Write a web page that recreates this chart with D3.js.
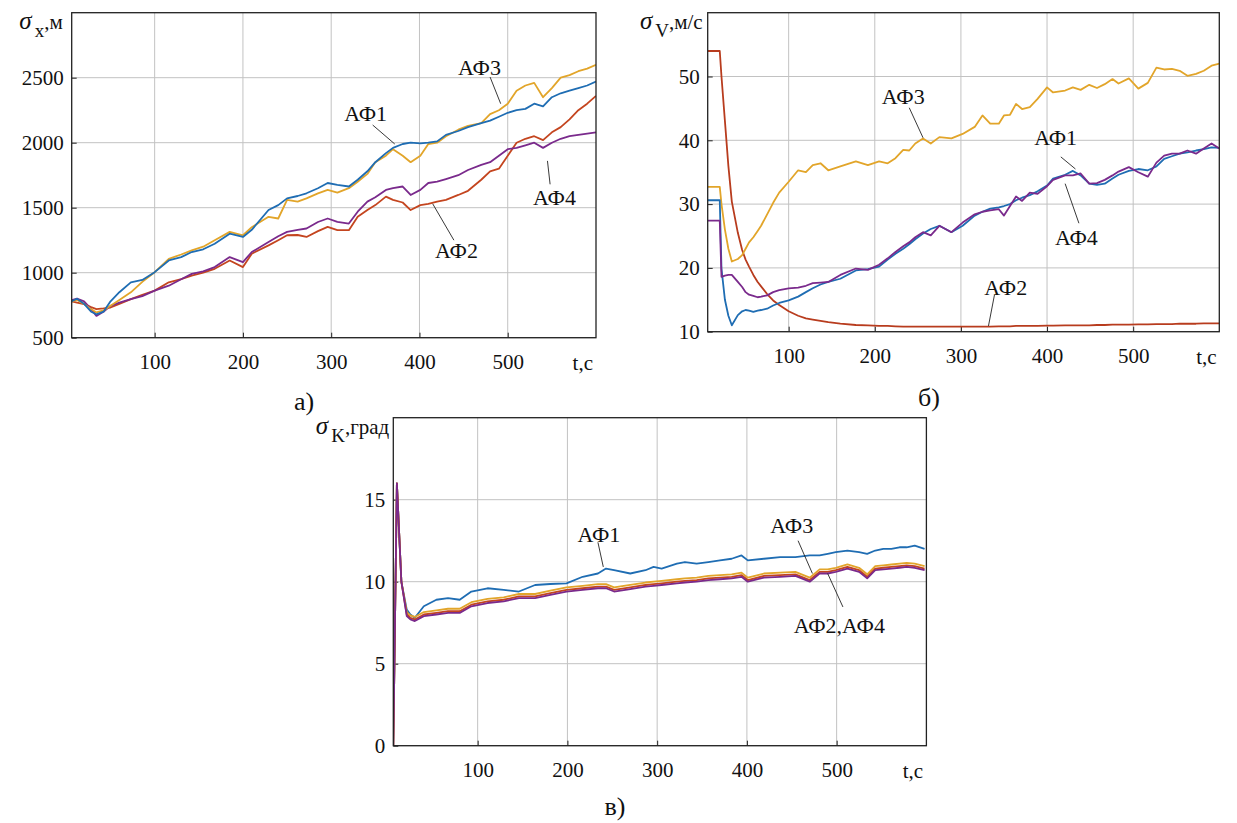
<!DOCTYPE html>
<html><head>
<meta charset="utf-8">
<title>sigma</title>
<script src="https://cdn.jsdelivr.net/npm/d3@7"></script>
<style>
body { margin:0; background:#fff; }
svg text { font-family:"Times New Roman","Liberation Serif","DejaVu Serif",serif; fill:#111; }
</style>
</head>
<body>
<svg id="chart" width="1237" height="823"></svg>
<script>

// ---- panel a) sigma_x, m ----
var tA = [6,12,20,28,34,42,50,60,73,86, 100,116,130,142,155,168,185,200,210,229,
  240,250,262,272,285,296,307,320,330,341, 350,362,370,381,390,401,410,420,430,444,
  455,470,480,490,500,510,520,530,540,550, 560,570,580,590,600];
var aF1 = [780,800,760,700,680,700,780,850,926,944, 1004,1094,1120,1159,1180,1223,1300,1275,1330,1482,
  1520,1572,1590,1611,1650,1690,1676,1663,1715,1780, 1850,1920,1960,1990,2000,1995,2000,2010,2060,2090,
  2120,2150,2170,2200,2230,2250,2260,2300,2280,2350, 2380,2400,2420,2440,2470];
var aF2 = [780,770,758,735,720,725,732,760,797,830, 862,926,950,978,1000,1030,1094,1043,1146,1210,
  1250,1288,1290,1275,1320,1353,1327,1327,1430,1482, 1520,1585,1560,1540,1482,1520,1530,1547,1560,1598,
  1630,1715,1780,1800,1900,2000,2030,2050,2020,2080, 2120,2180,2250,2300,2360];
var aF3 = [780,790,760,720,694,710,745,790,849,930, 1004,1107,1140,1172,1200,1249,1314,1288,1350,1430,
  1417,1560,1547,1572,1610,1637,1616,1650,1700,1760, 1850,1900,1950,1900,1850,1900,1990,2000,2050,2100,
  2130,2150,2220,2250,2300,2400,2440,2460,2350,2420, 2500,2520,2550,2570,2600];
var aF4 = [790,800,780,720,668,700,745,770,797,820, 862,900,950,991,1010,1043,1120,1081,1159,1236,
  1280,1314,1330,1340,1390,1417,1391,1378,1469,1547, 1580,1637,1650,1663,1598,1637,1690,1700,1720,1750,
  1790,1830,1850,1900,1950,1960,1980,2000,1960,2000, 2030,2050,2060,2070,2080];

// ---- panel b) sigma_V, m/s ----
var tB = [6,20,22,26,30,34,41,46,50,54, 59,64,68,75,82,89,100,111,120,128,
  137,146,160,178,192,205,215,224,233,240, 247,256,265,275,289,302,316,325,334,344,
  350,357,364,371,380,389,400,407,421,430, 439,449,458,467,476,483,495,506,517,527,
  536,545,554,563,573,582,591,600];
var bF1 = [30.6,30.6,19.9,15,12.5,11.0,12.6,13.2,13.4,13.3, 13.1,13.3,13.4,13.6,14.1,14.5,14.9,15.5,16.2,16.8,
  17.4,17.8,18.3,19.6,19.8,20.2,21.3,22.2,23.0,23.7, 24.5,25.4,26.1,26.6,25.6,26.6,28.2,28.8,29.3,29.5,
  29.7,30.0,30.6,31.0,31.4,32.0,32.9,34.0,34.6,35.2, 34.5,33.2,33.0,33.2,34.0,34.6,35.2,35.5,35.3,35.9,
  37.1,37.5,37.9,38.1,38.4,38.6,38.9,38.8];
var bF2 = [54,54,50,43,36,30.4,25.5,22.8,21.3,20.2, 18.9,17.8,17.1,15.9,14.9,14.2,13.2,12.5,12.1,11.9,
  11.7,11.5,11.25,11.05,11.0,10.9,10.9,10.85,10.8,10.8, 10.8,10.8,10.8,10.8,10.8,10.8,10.8,10.8,10.8,10.85,
  10.85,10.85,10.9,10.9,10.9,10.9,10.95,10.95,11.0,11.0, 11.0,11.0,11.05,11.05,11.1,11.1,11.1,11.15,11.15,11.2,
  11.2,11.2,11.25,11.25,11.25,11.3,11.3,11.3];
var bF3 = [32.7,32.7,30,26,23,21,21.4,22,23,24, 24.8,25.8,26.6,28.4,30.2,31.8,33.5,35.3,35,36.1,
  36.4,35.3,35.9,36.7,36.1,36.7,36.4,37.2,38.5,38.4, 39.5,40.3,39.5,40.5,40.3,41.0,42.1,43.9,42.6,42.6,
  43.9,44.0,45.7,44.9,45.2,46.5,48.3,47.5,47.8,48.3, 47.9,48.7,48.2,48.8,49.6,48.9,49.7,48.1,49.0,51.4,
  51.1,51.2,50.9,50.1,50.4,50.9,51.7,52.0];
var bF4 = [27.4,27.4,18.6,18.8,18.9,18.9,17.8,17,16.2,15.8, 15.6,15.4,15.5,15.7,16.2,16.5,16.8,16.9,17.2,17.6,
  17.7,17.8,18.9,19.9,19.7,20.5,21.5,22.5,23.4,24.0, 24.8,25.6,25.1,26.6,25.6,27.1,28.4,28.8,29.0,29.2,
  28.2,29.7,31.2,30.5,31.8,31.6,32.8,33.8,34.5,34.5, 34.8,33.2,33.3,33.8,34.5,35.1,35.8,35.0,34.3,36.5,
  37.6,37.9,37.9,38.4,37.9,38.7,39.5,38.7];

// ---- panel c) sigma_K, deg ----
var tC = [6,7,10,15,21,25,30,40,54,67, 80,93,111,129,146,164,181,199,217,234,
  243,252,270,287,296,305,322,331,344,357, 370,383,394,401,419,437,454,470,481,490,
  499,512,525,534,543,552,561,570,578,587, 598];
var cF1 = [0,4,16,10,8.3,8.0,7.8,8.5,8.9,9.0, 8.9,9.4,9.6,9.5,9.4,9.8,9.86,9.9,10.3,10.5,
  10.8,10.7,10.5,10.7,10.9,10.8,11.1,11.2,11.1,11.2, 11.3,11.4,11.6,11.3,11.4,11.5,11.5,11.6,11.6,11.7,
  11.8,11.9,11.8,11.7,11.9,12.0,12.0,12.1,12.1,12.2, 12.0];
var cF2 = [0,4,16,10,8.0,7.8,7.7,8.0,8.1,8.2, 8.2,8.6,8.8,8.9,9.1,9.1,9.3,9.5,9.6,9.7,
  9.7,9.5,9.65,9.8,9.85,9.9,10.0,10.05,10.1,10.2, 10.25,10.3,10.4,10.1,10.35,10.4,10.45,10.1,10.6,10.6,
  10.7,10.9,10.7,10.3,10.8,10.85,10.9,10.95,11.0,10.95, 10.8];
var cF3 = [0,4,16,10,8.15,7.95,7.85,8.15,8.25,8.35, 8.35,8.75,8.95,9.05,9.25,9.25,9.45,9.65,9.75,9.85,
  9.85,9.65,9.8,9.95,10.0,10.05,10.15,10.2,10.25,10.35, 10.4,10.45,10.55,10.25,10.5,10.55,10.6,10.25,10.75,10.75,
  10.85,11.05,10.85,10.45,10.95,11.0,11.05,11.1,11.15,11.1, 10.95];
var cF4 = [0,4,16,10,7.9,7.7,7.6,7.9,8.0,8.1, 8.1,8.5,8.7,8.8,9.0,9.0,9.2,9.4,9.5,9.6,
  9.6,9.4,9.55,9.7,9.75,9.8,9.9,9.95,10.0,10.1, 10.15,10.2,10.3,10.0,10.25,10.3,10.35,10.0,10.5,10.5,
  10.6,10.8,10.6,10.2,10.7,10.75,10.8,10.85,10.9,10.85, 10.7];

var xTicks = [100,200,300,400,500];
var colAF1 = "#1f6db3", colAF2 = "#c4451f", colAF3 = "#e2a52a", colAF4 = "#7a2a8c";
var serif = "'Times New Roman','Liberation Serif','DejaVu Serif',serif";

var svg = d3.select("#chart");
var clipN = 0;

function drawPanel(p) {
  var g = svg.append("g");
  var x = d3.scaleLinear().domain([6, 600]).range([p.left, p.right]);
  var y = d3.scaleLinear().domain(p.yDomain).range([p.bottom, p.top]);

  // grid
  g.selectAll(".vg").data(xTicks).enter().append("line")
    .attr("x1", function(d){ return x(d); }).attr("x2", function(d){ return x(d); })
    .attr("y1", p.top).attr("y2", p.bottom)
    .attr("stroke", "#c2c2c2").attr("stroke-width", 1);
  g.selectAll(".hg").data(p.yTicks).enter().append("line")
    .attr("x1", p.left).attr("x2", p.right)
    .attr("y1", function(d){ return y(d); }).attr("y2", function(d){ return y(d); })
    .attr("stroke", "#c2c2c2").attr("stroke-width", 1);

  // axes
  var ax = g.append("g").attr("transform", "translate(0," + p.bottom + ")")
    .call(d3.axisBottom(x).tickValues(xTicks).tickFormat(d3.format("d"))
      .tickSizeInner(-5).tickSizeOuter(0).tickPadding(16));
  var ay = g.append("g").attr("transform", "translate(" + p.left + ",0)")
    .call(d3.axisLeft(y).tickValues(p.yTicks).tickFormat(d3.format("d"))
      .tickSizeInner(-5).tickSizeOuter(0).tickPadding(8));
  [ax, ay].forEach(function(a){
    a.attr("font-family", null).attr("font-size", null);
    a.select(".domain").remove();
    a.selectAll("line").attr("stroke", "#222");
    a.selectAll("text").style("font-size", "21px").style("font-family", serif).attr("fill", "#111");
  });

  g.append("text").attr("x", x(585)).attr("y", p.bottom + 32)
    .attr("text-anchor", "middle").style("font-size", "21px").style("font-family", serif).text("t,c");

  // series
  clipN++;
  svg.append("clipPath").attr("id", "clip" + clipN).append("rect")
    .attr("x", p.left).attr("y", p.top).attr("width", p.right - p.left).attr("height", p.bottom - p.top);
  var line = d3.line()
    .x(function(d){ return x(d[0]); })
    .y(function(d){ return y(d[1]); });
  p.series.forEach(function(s){
    g.append("path")
      .datum(d3.zip(p.t, s.v))
      .attr("clip-path", "url(#clip" + clipN + ")")
      .attr("fill", "none")
      .attr("stroke", s.c)
      .attr("stroke-width", 1.8)
      .attr("stroke-linejoin", "round")
      .attr("d", line);
  });

  // frame
  g.append("rect").attr("x", p.left).attr("y", p.top)
    .attr("width", p.right - p.left).attr("height", p.bottom - p.top)
    .attr("fill", "none").attr("stroke", "#222").attr("stroke-width", 1.3);

  // y label: sigma with subscript
  var lab = g.append("text").attr("x", p.left - p.labGap).attr("y", p.top + 16)
    .attr("text-anchor", "end").style("font-family", serif).style("font-size", "21px");
  lab.append("tspan").attr("font-style", "italic").style("font-size", "25px").text("σ");
  lab.append("tspan").style("font-size", "19px").attr("dx", 3).attr("dy", 8).text(p.sub);
  lab.append("tspan").style("font-size", "21px").attr("dy", -8).text(p.unit);

  // annotations
  p.notes.forEach(function(n){
    g.append("line")
      .attr("x1", x(n.l[0])).attr("y1", y(n.l[1]))
      .attr("x2", x(n.l[2])).attr("y2", y(n.l[3]))
      .attr("stroke", "#222").attr("stroke-width", 0.9);
    g.append("text").attr("x", x(n.at[0])).attr("y", y(n.at[1]))
      .attr("text-anchor", "middle").attr("dominant-baseline", "central")
      .style("font-family", serif).style("font-size", "22px").text(n.text);
  });

  g.append("text").attr("x", p.cap[0]).attr("y", p.cap[1])
    .attr("text-anchor", "middle").style("font-family", serif).style("font-size", "26px").text(p.capText);
}

drawPanel({
  left: 71.7, right: 596, top: 12.7, bottom: 337.7, labGap: 9,
  yDomain: [500, 3000], yTicks: [500, 1000, 1500, 2000, 2500],
  sub: "x", unit: ",м",
  t: tA,
  series: [{v: aF2, c: colAF2}, {v: aF4, c: colAF4}, {v: aF3, c: colAF3}, {v: aF1, c: colAF1}],
  notes: [
    {text: "АФ1", at: [339, 2228], l: [347, 2136, 372, 1990]},
    {text: "АФ3", at: [468, 2580], l: [480, 2505, 492, 2300]},
    {text: "АФ4", at: [553, 1575], l: [548, 1680, 545, 1860]},
    {text: "АФ2", at: [442, 1173], l: [439, 1250, 415, 1530]}
  ],
  cap: [304, 410], capText: "а)"
});

drawPanel({
  left: 707.7, right: 1219.3, top: 12.7, bottom: 331.7, labGap: 5,
  yDomain: [10, 60], yTicks: [10, 20, 30, 40, 50],
  sub: "V", unit: ",м/с",
  t: tB,
  series: [{v: bF2, c: "#b83c1e"}, {v: bF3, c: colAF3}, {v: bF1, c: colAF1}, {v: bF4, c: colAF4}],
  notes: [
    {text: "АФ3", at: [233, 46.8], l: [240, 45.1, 256, 40.4]},
    {text: "АФ1", at: [410, 40.4], l: [416, 37.4, 433, 35.5]},
    {text: "АФ4", at: [434, 24.8], l: [437, 27, 421, 33.2]},
    {text: "АФ2", at: [352, 17.0], l: [339, 15.8, 332, 10.9]}
  ],
  cap: [929, 406], capText: "б)"
});

drawPanel({
  left: 393.3, right: 926.4, top: 417.7, bottom: 745.7, labGap: 4,
  yDomain: [0, 20], yTicks: [0, 5, 10, 15],
  sub: "K", unit: ",град",
  t: tC,
  series: [{v: cF1, c: colAF1}, {v: cF3, c: colAF3}, {v: cF2, c: colAF2}, {v: cF4, c: colAF4}],
  notes: [
    {text: "АФ1", at: [235, 12.85], l: [234, 12.4, 240, 10.9]},
    {text: "АФ3", at: [450, 13.45], l: [457, 12.5, 473, 10.5]},
    {text: "АФ2,АФ4", at: [503, 7.35], l: [507, 8.46, 490, 10.5]}
  ],
  cap: [615, 815], capText: "в)"
});

</script>
</body></html>
